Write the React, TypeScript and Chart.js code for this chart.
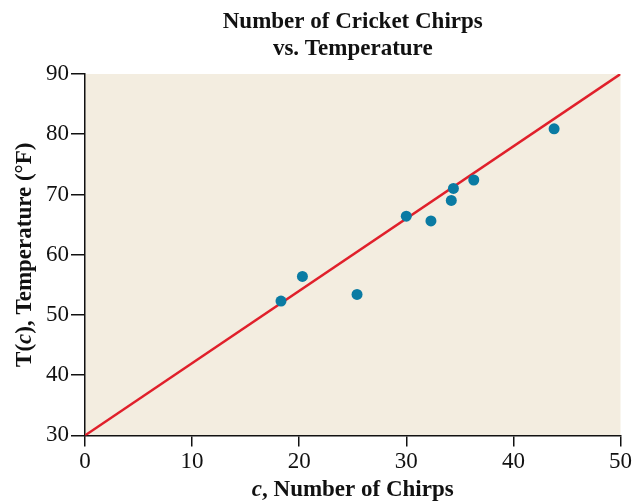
import React, { useEffect, useRef } from "react";
import { Chart, registerables } from "chart.js";

Chart.register(...registerables);

const chirps = [18.3, 20.3, 25.4, 30.0, 32.3, 34.2, 34.4, 36.3, 43.8];
const temps = [52.3, 56.4, 53.4, 66.4, 65.6, 69.0, 71.0, 72.4, 80.9];
const lineX = [0, 50];
const lineY = [30, 90];
const xRange = [0, 50, 10];
const yRange = [30, 90, 10];
const titleLines = ["Number of Cricket Chirps", "vs. Temperature"];
const xTitleParts = [
  { text: "c", italic: true },
  { text: ", Number of Chirps", italic: false },
];
const yTitleParts = [
  { text: "T(", italic: false },
  { text: "c", italic: true },
  { text: "), Temperature (°F)", italic: false },
];

const FONT = "'Liberation Serif', 'DejaVu Serif', serif";
const BG = "#f3ede0";
const DOT = "#0a7ba3";
const RED = "#e0202b";

type Part = { text: string; italic: boolean };

function drawParts(ctx: CanvasRenderingContext2D, parts: Part[], cx: number, y: number, size: number) {
  const fontOf = (p: Part) => `${p.italic ? "italic " : ""}bold ${size}px ${FONT}`;
  let total = 0;
  const widths = parts.map((p) => {
    ctx.font = fontOf(p);
    const w = ctx.measureText(p.text).width;
    total += w;
    return w;
  });
  let x = cx - total / 2;
  ctx.textAlign = "left";
  ctx.textBaseline = "alphabetic";
  ctx.fillStyle = "#111";
  parts.forEach((p, i) => {
    ctx.font = fontOf(p);
    ctx.fillText(p.text, x, y);
    x += widths[i];
  });
}

const decorPlugin = {
  id: "decor",
  beforeDraw(chart: any) {
    const { ctx, chartArea } = chart;
    ctx.save();
    ctx.fillStyle = BG;
    ctx.fillRect(chartArea.left, chartArea.top, chartArea.right - chartArea.left, chartArea.bottom - chartArea.top);
    ctx.restore();
  },
  afterDraw(chart: any) {
    const { ctx, chartArea } = chart;
    ctx.save();
    const cx = (chartArea.left + chartArea.right) / 2;
    drawParts(ctx, xTitleParts, cx, chart.height - 6, 23);
    ctx.translate(31, (chartArea.top + chartArea.bottom) / 2);
    ctx.rotate(-Math.PI / 2);
    drawParts(ctx, yTitleParts, 0, 0, 23);
    ctx.restore();
  },
};

export default function App() {
  const ref = useRef<HTMLCanvasElement | null>(null);
  useEffect(() => {
    if (!ref.current) return;
    const chart = new Chart(ref.current, {
      type: "scatter",
      data: {
        datasets: [
          {
            label: "Observations",
            data: chirps.map((c, i) => ({ x: c, y: temps[i] })),
            backgroundColor: DOT,
            borderColor: DOT,
            pointRadius: 5.5,
            borderWidth: 0,
          },
          {
            label: "Fit",
            type: "line",
            data: lineX.map((x, i) => ({ x, y: lineY[i] })),
            borderColor: RED,
            borderWidth: 2.5,
            pointRadius: 0,
            showLine: true,
            fill: false,
          } as any,
        ],
      },
      options: {
        animation: false,
        responsive: false,
        layout: { padding: { left: 44, right: 13, top: 0, bottom: 24 } },
        plugins: {
          legend: { display: false },
          tooltip: { enabled: false },
          title: {
            display: true,
            fullSize: false,
            text: titleLines,
            color: "#111",
            font: { family: FONT, size: 23, weight: "bold", lineHeight: 1.18 },
            padding: { top: 8, bottom: 11.7 },
          },
        },
        scales: {
          x: {
            type: "linear",
            min: xRange[0],
            max: xRange[1],
            ticks: { stepSize: xRange[2], color: "#111", font: { family: FONT, size: 23 }, padding: 2 },
            grid: { drawOnChartArea: false, drawTicks: true, tickLength: 11, color: "#111", lineWidth: 1.5 },
            border: { display: true, color: "#111", width: 1.5 },
          },
          y: {
            type: "linear",
            min: yRange[0],
            max: yRange[1],
            ticks: { stepSize: yRange[2], color: "#111", font: { family: FONT, size: 23 }, padding: 2 },
            grid: { drawOnChartArea: false, drawTicks: true, tickLength: 14, color: "#111", lineWidth: 1.5 },
            border: { display: true, color: "#111", width: 1.5 },
          },
        },
      },
      plugins: [decorPlugin],
    });
    return () => chart.destroy();
  }, []);
  return (
    <div style={{ position: "absolute", left: 0, top: 0, width: 634, height: 502 }}>
      <canvas ref={ref} width={634} height={502} style={{ display: "block" }} />
    </div>
  );
}
